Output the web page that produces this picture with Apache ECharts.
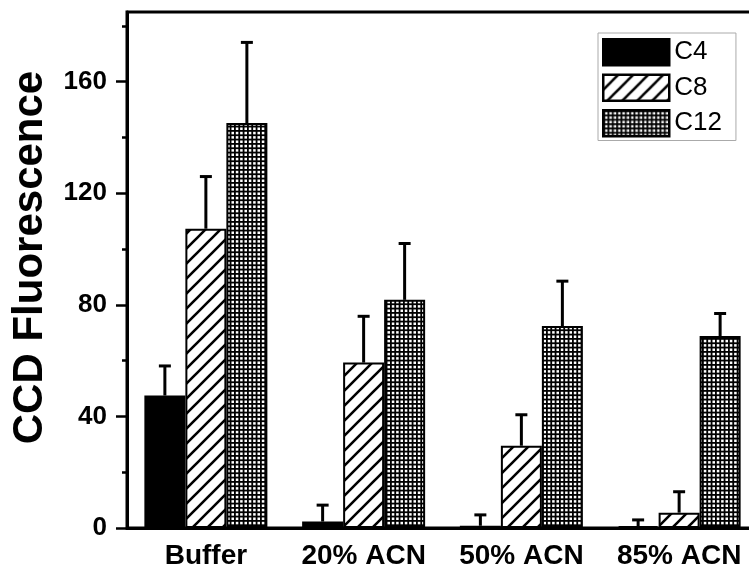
<!DOCTYPE html>
<html><head><meta charset="utf-8">
<script src="https://cdn.jsdelivr.net/npm/echarts@6/dist/echarts.min.js"></script>
<style>html,body{margin:0;padding:0;background:#fff}#c{width:749px;height:570px}</style>
</head><body><div id="c"></div>
<script>
const categories = ['Buffer', '20% ACN', '50% ACN', '85% ACN'];
const seriesNames = ['C4', 'C8', 'C12'];
const c4Values = [47.5, 2.3, 0.8, 0.7];
const c4Errors = [10.6, 5.9, 3.9, 2.2];
const c8Values = [107.3, 59.3, 29.5, 5.5];
const c8Errors = [18.7, 16.6, 11.1, 7.5];
const c12Values = [145.2, 81.8, 72.4, 68.8];
const c12Errors = [28.9, 20.2, 16.1, 8.1];
const yMajorTicks = [0, 40, 80, 120, 160];
const yMinorTicks = [20, 60, 100, 140, 180];
const yMin = 0;
const yMax = 185;
const yTitle = 'CCD Fluorescence';

const FONT = '"Liberation Sans", Arial, sans-serif';
const BAR_W = 41;

function hatchPattern() {
  const s = 15;
  const c = document.createElement('canvas');
  c.width = s; c.height = s;
  const g = c.getContext('2d');
  g.fillStyle = '#fff'; g.fillRect(0, 0, s, s);
  g.strokeStyle = '#000'; g.lineWidth = 2.6;
  g.beginPath();
  for (const o of [-s, 0, s]) {
    g.moveTo(o - 2, s + 2);
    g.lineTo(o + s + 2, -2);
  }
  g.stroke();
  return c;
}
function gridPattern() {
  const s = 13;
  const c = document.createElement('canvas');
  c.width = s; c.height = s;
  const g = c.getContext('2d');
  g.fillStyle = '#fff'; g.fillRect(0, 0, s, s);
  g.fillStyle = '#000';
  for (let i = 0; i < 3; i++) {
    const p = i * s / 3;
    g.fillRect(p, 0, 1.8, s);
    g.fillRect(0, p, s, 1.8);
  }
  return c;
}

const fills = [
  '#000',
  { image: hatchPattern(), repeat: 'repeat' },
  { image: gridPattern(), repeat: 'repeat' }
];
const valueSets = [c4Values, c8Values, c12Values];
const errorSets = [c4Errors, c8Errors, c12Errors];

const series = [];
seriesNames.forEach((name, k) => {
  series.push({
    type: 'bar', name: name, data: valueSets[k],
    barWidth: BAR_W, barGap: '0%',
    itemStyle: { color: fills[k], borderColor: '#000', borderWidth: 2 },
    z: 2
  });
});
seriesNames.forEach((name, k) => {
  series.push({
    type: 'custom', name: name + ' error', z: 5,
    data: valueSets[k].map((v, i) => [i, v, v + errorSets[k][i]]),
    encode: { x: 0, y: [1, 2] },
    renderItem: function (params, api) {
      const x = api.value(0);
      const lo = api.coord([x, api.value(1)]);
      const hi = api.coord([x, api.value(2)]);
      const cx = lo[0] + (k - 1) * BAR_W;
      return {
        type: 'group', children: [
          { type: 'line', shape: { x1: cx, y1: lo[1], x2: cx, y2: hi[1] }, style: { stroke: '#000', lineWidth: 3 } },
          { type: 'line', shape: { x1: cx - 6, y1: hi[1], x2: cx + 6, y2: hi[1] }, style: { stroke: '#000', lineWidth: 3 } }
        ]
      };
    }
  });
});

const chart = echarts.init(document.getElementById('c'));
chart.setOption({
  animation: false,
  backgroundColor: '#fff',
  grid: {
    left: 127, top: 12, width: 631, bottom: 42, containLabel: false, outerBoundsMode: 'none',
    show: true, borderColor: '#000', borderWidth: 3, backgroundColor: 'transparent'
  },
  legend: {
    data: seriesNames, orient: 'vertical', left: 598, top: 33,
    icon: 'rect',
    itemWidth: 66, itemHeight: 26, itemGap: 7,
    padding: [5, 14, 3, 4],
    borderColor: '#aaa', borderWidth: 1, backgroundColor: '#fff',
    itemStyle: { borderColor: '#000', borderWidth: 2.5 },
    textStyle: { fontSize: 26, color: '#000', fontFamily: FONT }
  },
  xAxis: {
    type: 'category', data: categories, boundaryGap: true,
    axisLine: { lineStyle: { color: '#000', width: 3 } },
    axisTick: { alignWithLabel: true, length: 10, lineStyle: { color: '#000', width: 2.5 } },
    axisLabel: { interval: 0, fontSize: 28, fontWeight: 'bold', color: '#000', margin: 14, fontFamily: FONT },
    splitLine: { show: false }
  },
  yAxis: [{
    type: 'value', min: yMin, max: yMax, position: 'left',
    axisLine: { show: true, lineStyle: { color: '#000', width: 3 } },
    axisTick: { show: true, customValues: yMajorTicks, length: 11, lineStyle: { color: '#000', width: 2.5 } },
    axisLabel: { customValues: yMajorTicks, fontSize: 26, fontWeight: 'bold', color: '#000', margin: 20, fontFamily: FONT },
    splitLine: { show: false },
    name: yTitle, nameLocation: 'middle', nameGap: 76,
    nameTextStyle: { fontSize: 42, fontWeight: 'bold', color: '#000', fontFamily: FONT, padding: [0, 0, 0, 25] }
  }, {
    type: 'value', min: yMin, max: yMax, position: 'left',
    axisLine: { show: false },
    axisTick: { show: true, customValues: yMinorTicks, length: 5, lineStyle: { color: '#000', width: 2.5 } },
    axisLabel: { show: false },
    splitLine: { show: false }
  }],
  series: series
});
</script>
</body></html>
